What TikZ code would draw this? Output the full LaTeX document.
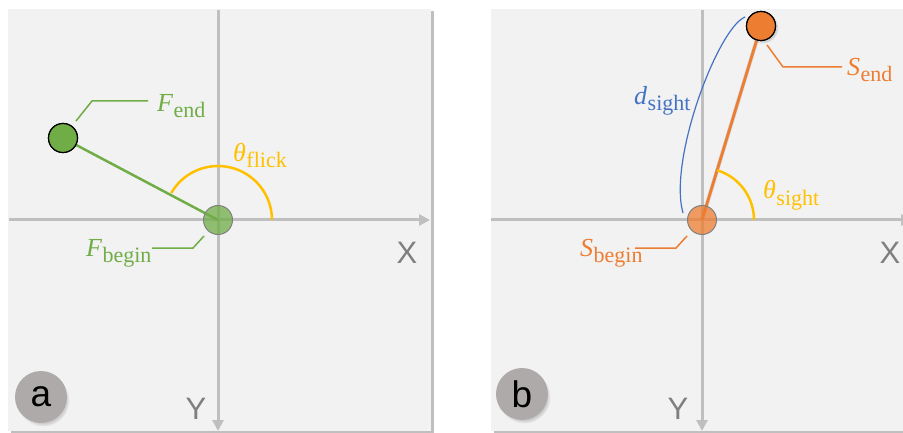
\documentclass[tikz,border=0pt]{standalone}
\usepackage{fontspec}
\newfontfamily\axisfont{Liberation Sans}
\newfontfamily\symfont{Liberation Serif}
\usetikzlibrary{arrows.meta,shadows}

\definecolor{bggray}{HTML}{F2F2F2}
\definecolor{axisgray}{HTML}{BFBFBF}
\definecolor{labelgray}{HTML}{7F7F7F}
\definecolor{fgreen}{HTML}{70AD47}
\definecolor{sorange}{HTML}{ED7D31}
\definecolor{angyellow}{HTML}{FFC000}
\definecolor{dblue}{HTML}{4472C4}
\definecolor{badgegray}{HTML}{AEAAAA}

% italic symbol with an upright, lowered subscript word
\newcommand{\symsub}[2]{{\symfont\fontsize{26}{30}\selectfont\itshape #1}\kern0.5pt%
  \raisebox{-6pt}{\symfont\fontsize{22}{22}\selectfont #2}}

\begin{document}
\begin{tikzpicture}[x=1pt,y=-1pt,
  panel/.style={fill=bggray, draw=none, inner sep=0pt, outer sep=0pt,
    minimum width=423pt, minimum height=422pt, anchor=north west,
    drop shadow={shadow xshift=2.5pt, shadow yshift=-2.5pt, opacity=0.25, fill=black}},
  axis/.style={draw=axisgray, line width=3pt, -{Triangle[length=11pt,width=11pt]}},
  axislabel/.style={text=labelgray, font=\axisfont\fontsize{31}{31}\selectfont, inner sep=0pt},
  badge/.style={circle, fill=badgegray, minimum size=52pt, inner sep=0pt,
    font=\axisfont\fontsize{37}{37}\selectfont, text=black,
    circular drop shadow={shadow xshift=2pt, shadow yshift=-3pt, shadow scale=1.02, opacity=0.35}},
  dot/.style={circle, minimum size=29pt, inner sep=0pt},
  enddot/.style={dot, draw=black, line width=1.2pt},
  begindot/.style={dot, draw=gray, line width=1pt, fill opacity=0.75},
  leader/.style={line width=1.5pt},
  angarc/.style={draw=angyellow, line width=2.5pt},
  symlabel/.style={inner sep=0pt, anchor=base west},
]
\useasboundingbox (0,0) rectangle (903,433);

% ---------- panel a: flick ----------
\node[panel] (pa) at (8,9) {};
\draw[axis] (9,220) coordinate (axl) -- (430,220) coordinate (axr);
\draw[axis] (218,10) coordinate (ayt) -- (218,431) coordinate (ayb);
\node[axislabel] (xa) at (407,253) {X};
\node[axislabel] (ya) at (196,409) {Y};
\node[badge] (ba) at (41,397) {a};

\coordinate (fo) at (218,220);
\node[enddot, fill=fgreen] (fe) at (63,138) {};
\draw[fgreen, line width=2.5pt] (fe) -- (fo);
\draw[angarc] (fo) ++(0:54) arc[start angle=0, end angle=-150, radius=54];
\node[begindot, fill=fgreen] (fb) at (fo) {};
\node[enddot, fill=fgreen] at (fe) {};

\node[symlabel, text=angyellow] (tf) at (233,162) {\symsub{θ}{flick}};
\node[symlabel, text=fgreen] (lfe) at (157,112) {\symsub{F}{end}};
\node[symlabel, text=fgreen] (lfb) at (86,256) {\symsub{F}{begin}};
\coordinate (fe1) at (76,121);
\coordinate (fe2) at (148,101);
\coordinate (fb1) at (204,236);
\coordinate (fb2) at (152,248);
\draw[leader, fgreen] (fe1) -- (92,101) -- (fe2);
\draw[leader, fgreen] (fb1) -- (193,248) -- (fb2);

% ---------- panel b: sight ----------
\node[panel] (pb) at (491,9) {};
\draw[axis] (491,220) coordinate (bxl) -- (912,220) coordinate (bxr);
\draw[axis] (702,10) coordinate (byt) -- (702,431) coordinate (byb);
\node[axislabel] (xb) at (890,253) {X};
\node[axislabel] (yb) at (678,409) {Y};
\node[badge] (bb) at (522,394) {b};

\coordinate (so) at (702,220);
\node[enddot, fill=sorange] (se) at (761,26) {};
\draw[black, opacity=0.12, line width=4pt, shift={(2,1)}] (se) -- (so);
\draw[sorange, line width=2.8pt] (se) -- (so);
\draw[angarc] (so) ++(0:52) arc[start angle=0, end angle=-73, radius=52];
\draw[dblue, line width=1.2pt] (683,213) coordinate (ds1)
  .. controls (668,160) and (718,28) .. (745,17) coordinate (ds2);
\node[begindot, fill=sorange] (sb) at (so) {};
\node[enddot, fill=sorange,
  circular drop shadow={shadow xshift=1.5pt, shadow yshift=-1.5pt, opacity=0.3}] at (se) {};

\node[symlabel, text=angyellow] (ts) at (763,199) {\symsub{θ}{sight}};
\node[symlabel, text=dblue] (ld) at (634,105) {\symsub{d}{sight}};
\node[symlabel, text=sorange] (lse) at (847,76) {\symsub{S}{end}};
\node[symlabel, text=sorange] (lsb) at (580,256) {\symsub{S}{begin}};
\coordinate (se1) at (767,45);
\coordinate (se2) at (842,67);
\coordinate (sb1) at (687,236);
\coordinate (sb2) at (635,248);
\draw[leader, sorange] (se1) -- (783,67) -- (se2);
\draw[leader, sorange] (sb1) -- (676,248) -- (sb2);
\end{tikzpicture}
\end{document}
